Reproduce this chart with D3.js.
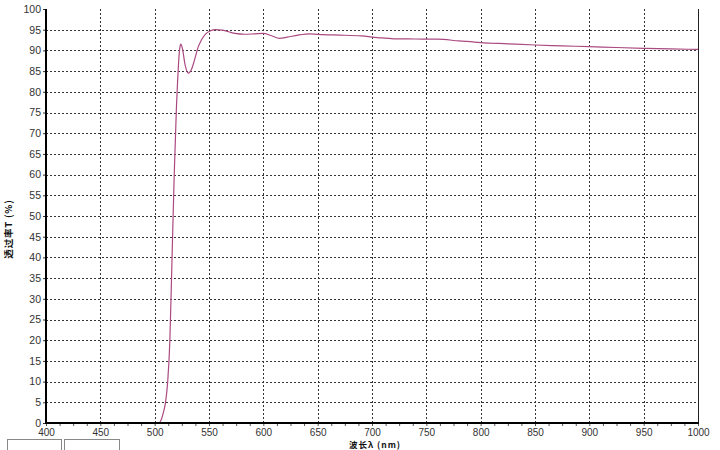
<!DOCTYPE html>
<html><head><meta charset="utf-8">
<script src="https://cdn.jsdelivr.net/npm/d3@7"></script>
<style>
body{margin:0;background:#fff;}
svg{display:block;}
</style></head>
<body>
<svg id="chart" width="720" height="450"></svg>
<script>
// wavelength (nm) and transmittance (%)
const wavelength = [400, 504, 506, 508, 510, 512, 514, 516, 518, 520, 521, 522, 523, 524, 525.5, 528, 531, 534, 537, 540, 543, 547, 551, 556, 562, 568, 574, 583, 592, 600, 607, 615, 622, 632, 643, 655, 670, 690, 705, 720, 740, 760, 780, 800, 825, 850, 875, 900, 925, 950, 975, 1000];
const transmittance = [0, 0, 0.8, 2.5, 5, 10, 20, 40, 60, 76, 82, 87, 90.3, 91.5, 90.5, 86.5, 84.5, 85.5, 88, 90.8, 92.5, 94, 94.7, 95, 94.9, 94.5, 94.1, 93.9, 94, 94.1, 93.6, 92.9, 93.2, 93.7, 94, 93.8, 93.7, 93.5, 93.1, 92.8, 92.75, 92.7, 92.3, 91.9, 91.6, 91.3, 91.1, 90.9, 90.7, 90.5, 90.35, 90.25];
const xTicks = [400, 450, 500, 550, 600, 650, 700, 750, 800, 850, 900, 950, 1000];
const yTicks = [0, 5, 10, 15, 20, 25, 30, 35, 40, 45, 50, 55, 60, 65, 70, 75, 80, 85, 90, 95, 100];
const xTitle = "波长λ (nm)";
const yTitle = "透过率T (%)";

const svg = d3.select("#chart");
const L = 46, R = 698, T = 9, B = 423;
const x = d3.scaleLinear().domain([400, 1000]).range([L, R]);
const y = d3.scaleLinear().domain([0, 100]).range([B, T]);

// UI boxes bottom-left
svg.append("rect").attr("x", 7.5).attr("y", 439.5).attr("width", 54).attr("height", 20)
  .attr("fill", "none").attr("stroke", "#888");
svg.append("rect").attr("x", 64.5).attr("y", 439.5).attr("width", 55).attr("height", 20)
  .attr("fill", "none").attr("stroke", "#888");

// grid
const grid = svg.append("g");
grid.selectAll("line.h").data(yTicks.filter(d => d > 0 && d < 100)).enter().append("line")
  .attr("x1", L).attr("x2", R).attr("y1", d => Math.round(y(d)) + 0.5).attr("y2", d => Math.round(y(d)) + 0.5)
  .attr("stroke", "#333").attr("stroke-dasharray", "2,2");
grid.selectAll("line.v").data(xTicks.filter(d => d > 400 && d < 1000)).enter().append("line")
  .attr("y1", T).attr("y2", B).attr("x1", d => Math.round(x(d)) + 0.5).attr("x2", d => Math.round(x(d)) + 0.5)
  .attr("stroke", "#333").attr("stroke-dasharray", "2,2");

// right border
svg.append("line").attr("x1", R + 0.5).attr("x2", R + 0.5).attr("y1", T).attr("y2", B)
  .attr("stroke", "#222");

// curve
const pts = wavelength.map((w, i) => [w, transmittance[i]]);
svg.append("path").datum(pts)
  .attr("d", d3.line().x(d => x(d[0])).y(d => y(d[1])).curve(d3.curveMonotoneX))
  .attr("fill", "none").attr("stroke", "#ab4a80").attr("stroke-width", 1.2);

// axes
const font = "Liberation Sans, Arial, sans-serif";
const yAxis = svg.append("g").attr("transform", `translate(${L},0)`)
  .call(d3.axisLeft(y).tickValues(yTicks).tickSize(3).tickPadding(2).tickSizeOuter(0));
yAxis.select(".domain").remove();
yAxis.selectAll("text").attr("font-family", font).attr("font-size", 10.5).attr("fill", "#333");
yAxis.selectAll("line").attr("stroke", "#333");

const minor = d3.range(400, 1000.01, 12.5);
const xAxisMinor = svg.append("g").attr("transform", `translate(0,${B})`)
  .call(d3.axisBottom(x).tickValues(minor).tickSize(3).tickFormat(""));
xAxisMinor.select(".domain").remove();
xAxisMinor.selectAll("line").attr("stroke", "#555");

const xAxis = svg.append("g").attr("transform", `translate(0,${B})`)
  .call(d3.axisBottom(x).tickValues(xTicks).tickSize(0).tickPadding(6).tickFormat(d3.format("d")));
xAxis.select(".domain").remove();
xAxis.selectAll("text").attr("font-family", font).attr("font-size", 10).attr("fill", "#333");

svg.append("line").attr("x1", L).attr("x2", R + 1).attr("y1", B).attr("y2", B)
  .attr("stroke", "#000").attr("stroke-width", 2);
svg.append("line").attr("x1", L).attr("x2", L).attr("y1", T).attr("y2", B + 1)
  .attr("stroke", "#000").attr("stroke-width", 2);

// titles
svg.append("text").attr("x", 375).attr("y", 447.5).attr("text-anchor", "middle")
  .attr("font-family", "Noto Sans CJK SC").attr("font-weight", "bold").attr("font-size", 8.5)
  .attr("letter-spacing", 1).attr("fill", "#111").text(xTitle);
svg.append("text").attr("transform", "translate(12,229) rotate(-90)").attr("text-anchor", "middle")
  .attr("font-family", "Noto Sans CJK SC").attr("font-weight", "bold").attr("font-size", 9.5)
  .attr("letter-spacing", 0.8).attr("fill", "#111").text(yTitle);
</script>
</body></html>
